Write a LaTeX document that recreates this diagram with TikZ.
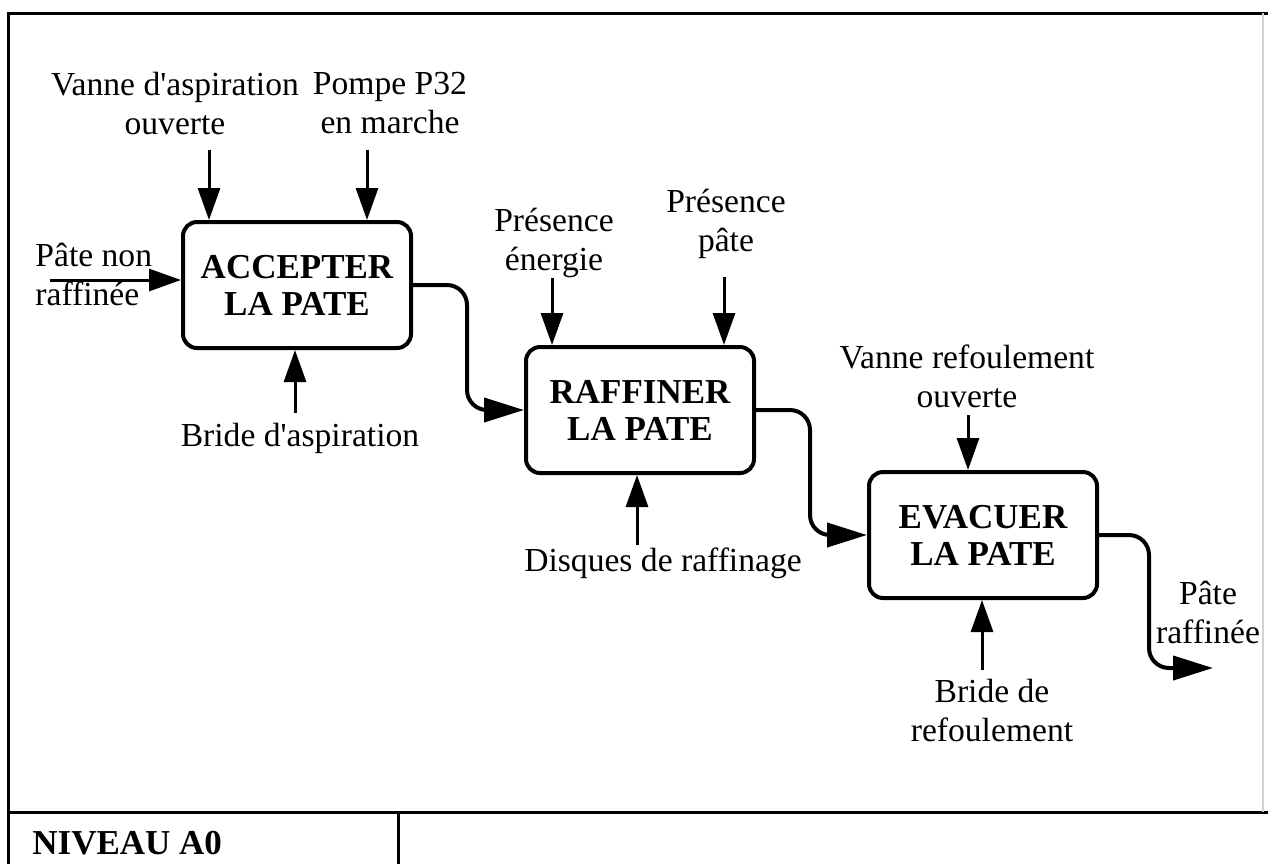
\documentclass[tikz,border=0pt]{standalone}
\usepackage{fontspec}
\setmainfont{Liberation Serif}[Ligatures=TeXOff]
\usetikzlibrary{arrows.meta,positioning,calc}

\begin{document}
\begin{tikzpicture}
[   x=0.5pt, y=-0.5pt,
    fnode/.style={draw=black, line width=2pt, rounded corners=7pt, minimum width=114pt, minimum height=63pt, align=center, font=\fontsize{17.5}{18.5}\selectfont\bfseries},
    lbl/.style={align=center, inner sep=0pt, font=\fontsize{16.8}{19.5}\selectfont},
    ctrl/.style={line width=1.5pt, -{Triangle[length=16pt,width=11pt]}},
    flow/.style={line width=2pt, rounded corners=10pt, -{Triangle[length=20pt,width=12pt]}},
    frame/.style={line width=1.5pt},
]
    \useasboundingbox (0,0) rectangle (1268,864);

    \draw[frame] (1268,13) -- (8,13) -- (8,864);
    \draw[frame] (8,812) -- (1268,812);
    \draw[frame] (398,812) -- (398,864);
    \draw[gray!35, line width=0.8pt] (1263,13) -- (1263,812);

    \node[fnode] (accepter) at (297,285) {ACCEPTER\\LA PATE};
    \node[fnode] (raffiner) at (640,410) {RAFFINER\\LA PATE};
    \node[fnode] (evacuer) at (983,535) {EVACUER\\LA PATE};

    \node[lbl] (l-vanneA) at (175,103) {Vanne d'aspiration\\ouverte};
    \node[lbl] (l-pompe) at (390,103) {Pompe P32\\en marche};
    \node[lbl, align=left, anchor=west] (l-pateIn) at (35,274) {Pâte non\\raffinée};
    \node[lbl] (l-brideA) at (300,438) {Bride d'aspiration};
    \node[lbl] (l-energie) at (554,243) {Présence\\énergie};
    \node[lbl] (l-pate) at (726,224) {Présence\\pâte};
    \node[lbl] (l-disques) at (663,563) {Disques de raffinage};
    \node[lbl] (l-vanneR) at (967,376) {Vanne refoulement\\ouverte};
    \node[lbl] (l-brideR) at (992,710) {Bride de\\refoulement};
    \node[lbl] (l-pateOut) at (1208,612) {Pâte\\raffinée};
    \node[lbl, anchor=west, font=\fontsize{17.5}{18.5}\selectfont\bfseries] (niveau) at (32,843) {NIVEAU A0};

    \foreach \n/\x/\y/\b in {vanneA/209/150/accepter, pompe/367/150/accepter, energie/552/278/raffiner, pate/724/277/raffiner, vanneR/968/415/evacuer}
    {   \coordinate (c-\n) at (\x,\y);
        \draw[ctrl] (c-\n) -- (c-\n |- \b.north);
    }

    \foreach \n/\x/\y/\b in {brideA/295/413/accepter, disques/637/545/raffiner, brideR/982/670/evacuer}
    {   \coordinate (c-\n) at (\x,\y);
        \draw[ctrl] (c-\n) -- (c-\n |- \b.south);
    }

    \coordinate (c-pateIn) at (50,280);
    \coordinate (c-pateOut) at (1213,668);
    \draw[ctrl] (c-pateIn) -- (c-pateIn -| accepter.west);

    \draw[flow] (accepter.east) -- ++(54,0) |- (raffiner.west);
    \draw[flow] (raffiner.east) -- ++(54,0) |- (evacuer.west);
    \draw[flow] (evacuer.east) -- ++(50,0) |- (c-pateOut);

\end{tikzpicture}
\end{document}
